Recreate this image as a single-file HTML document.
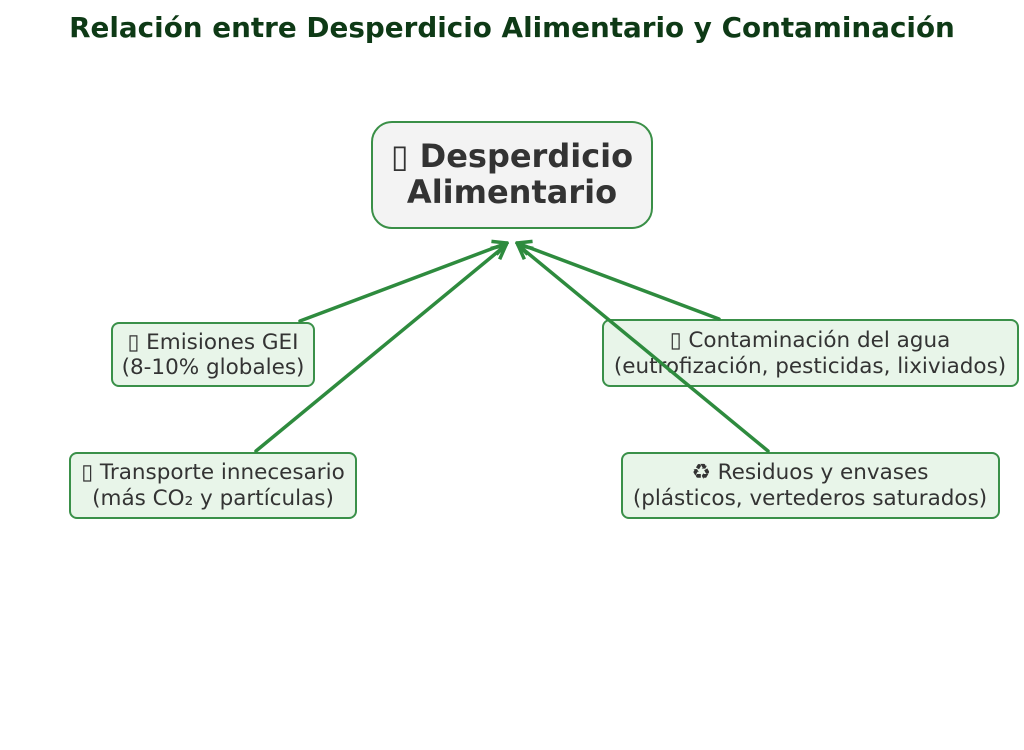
<!DOCTYPE html>
<html><head><meta charset="utf-8"><style>
html,body{margin:0;padding:0;background:#fff}
svg{display:block}
text{font-family:"DejaVu Sans","Liberation Sans",sans-serif}
</style></head><body>
<svg width="1024" height="750" viewBox="0 0 1024 750" xmlns="http://www.w3.org/2000/svg">
<defs>
<marker id="ah" viewBox="0 0 10 10" refX="9" refY="5" markerWidth="5" markerHeight="5" orient="auto" markerUnits="strokeWidth">
<path d="M1,1 L9,5 L1,9" fill="none" stroke="#2e8b3e" stroke-width="2"/>
</marker>
</defs>
<text x="512" y="37" text-anchor="middle" font-size="27.8" font-weight="bold" fill="#0e3a16">Relación entre Desperdicio Alimentario y Contaminación</text>

<rect x="372" y="122" width="280" height="106" rx="20" fill="#f3f3f3" stroke="#3a8f47" stroke-width="2"/>
<text x="512" y="167" text-anchor="middle" font-size="32" font-weight="bold" fill="#333">▯ Desperdicio</text>
<text x="512" y="203" text-anchor="middle" font-size="32" font-weight="bold" fill="#333">Alimentario</text>

<g fill="#e8f5e9" stroke="#3a9049" stroke-width="2">
<rect x="112" y="323" width="202" height="63" rx="7"/>
<rect x="603" y="320" width="415" height="66" rx="7"/>
<rect x="70" y="453" width="286" height="65" rx="7"/>
<rect x="622" y="453" width="377" height="65" rx="7"/>
</g>
<g font-size="21.5" fill="#333" text-anchor="middle">
<text x="213" y="349">▯ Emisiones GEI</text>
<text x="213" y="374">(8-10% globales)</text>
<text x="810" y="347">▯ Contaminación del agua</text>
<text x="810" y="373">(eutrofización, pesticidas, lixiviados)</text>
<text x="213" y="479">▯ Transporte innecesario</text>
<text x="213" y="505">(más CO₂ y partículas)</text>
<text x="810" y="479">♻ Residuos y envases</text>
<text x="810" y="505">(plásticos, vertederos saturados)</text>
</g>

<g stroke="#2e8b3e" stroke-width="3.5" fill="none" stroke-linecap="round" marker-end="url(#ah)">
<line x1="300" y1="321" x2="507" y2="243"/>
<line x1="256" y1="451" x2="506" y2="245"/>
<line x1="719" y1="319" x2="517" y2="243"/>
<line x1="768" y1="451" x2="518" y2="245"/>
</g>
</svg>
</body></html>
